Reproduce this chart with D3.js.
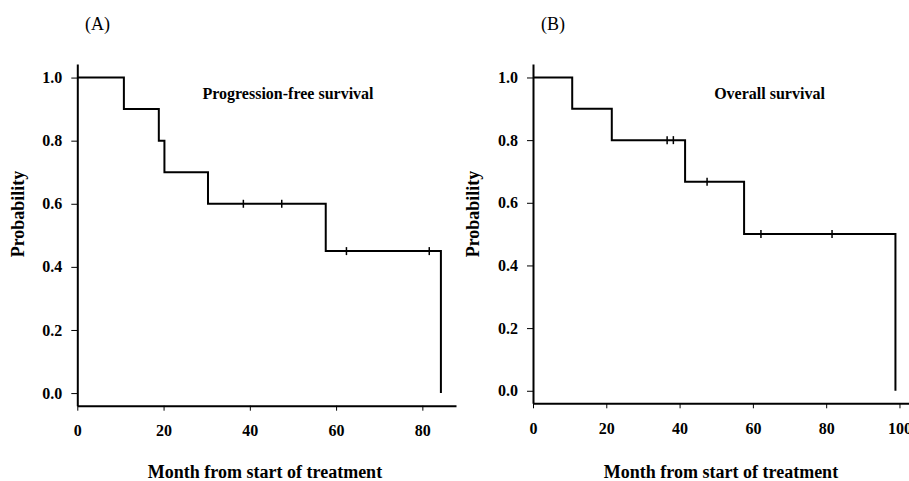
<!DOCTYPE html>
<html>
<head>
<meta charset="utf-8">
<script src="https://cdn.jsdelivr.net/npm/d3@7"></script>
<style>
  body { margin: 0; background: #fff; }
  text { font-family: "Liberation Serif", "Times New Roman", serif; fill: #000; }
</style>
</head>
<body>
<div id="chart"></div>
<script>
// Kaplan-Meier steps (months, probability)
var pfsTimes = [0, 10.8, 18.9, 20.2, 30.3, 57.6, 84.3]
var pfsSurv = [1.0, 0.9, 0.8, 0.7, 0.6, 0.45, 0.0]
var pfsCensor = [38.5, 47.4, 62.4, 81.6]

var osTimes = [0, 10.7, 21.5, 41.5, 57.6, 98.9]
var osSurv = [1.0, 0.9, 0.8, 0.667, 0.5, 0.0]
var osCensor = [36.6, 38.3, 47.5, 62.2, 81.6]

var yTicks = [0, 0.2, 0.4, 0.6, 0.8, 1.0]
var xTicksA = [0, 20, 40, 60, 80]
var xTicksB = [0, 20, 40, 60, 80, 100]

var width = 909
var height = 481

var svg = d3.select("#chart")
  .append("svg")
  .attr("width", width)
  .attr("height", height)

function panel(opt) {
  var x = d3.scaleLinear().domain([0, opt.xMax]).range([opt.left, opt.right])
  var y = d3.scaleLinear().domain([-0.04, 1.043]).range([opt.bottom, 64])

  var g = svg.append("g")

  // y axis
  var yAxis = g.append("g")
    .attr("transform", "translate(" + opt.left + ",0)")
    .call(d3.axisLeft(y).tickValues(yTicks).tickFormat(d3.format(".1f")).tickSize(6).tickSizeOuter(0).tickPadding(9))
  yAxis.select(".domain").attr("stroke-width", 2)
  yAxis.selectAll(".tick line").attr("stroke-width", 1)
  yAxis.selectAll("text")
    .style("font-size", "16px")
    .style("font-weight", "bold")

  // x axis
  var xAxis = g.append("g")
    .attr("transform", "translate(0," + opt.bottom + ")")
    .call(d3.axisBottom(x).tickValues(opt.xTicks).tickSize(5).tickSizeOuter(0).tickPadding(14))
  xAxis.select(".domain").attr("stroke-width", 2)
  xAxis.selectAll(".tick line").attr("stroke-width", 1)
  xAxis.selectAll("text")
    .style("font-size", "16px")
    .style("font-weight", "bold")

  // survival curve
  var pts = opt.times.map(function (t, i) { return [t, opt.surv[i]] })
  var line = d3.line()
    .x(function (d) { return x(d[0]) })
    .y(function (d) { return y(d[1]) })
    .curve(d3.curveStepAfter)
  g.append("path")
    .datum(pts)
    .attr("d", line)
    .attr("fill", "none")
    .attr("stroke", "#000")
    .attr("stroke-width", 2)

  // censor marks
  function survAt(t) {
    var s = opt.surv[0]
    opt.times.forEach(function (tt, i) { if (tt <= t) s = opt.surv[i] })
    return s
  }
  g.selectAll(".censor")
    .data(opt.censor)
    .enter()
    .append("line")
    .attr("x1", function (d) { return x(d) })
    .attr("x2", function (d) { return x(d) })
    .attr("y1", function (d) { return y(survAt(d)) - 4 })
    .attr("y2", function (d) { return y(survAt(d)) + 4 })
    .attr("stroke", "#000")
    .attr("stroke-width", 1.5)

  // labels
  g.append("text")
    .attr("x", opt.tagX)
    .attr("y", 30)
    .style("font-size", "18px")
    .text(opt.tag)

  g.append("text")
    .attr("x", opt.titleX)
    .attr("y", 99)
    .attr("text-anchor", "middle")
    .style("font-size", "16px")
    .style("font-weight", "bold")
    .text(opt.title)

  g.append("text")
    .attr("transform", "translate(" + opt.yLabelX + ",214) rotate(-90)")
    .attr("text-anchor", "middle")
    .style("font-size", "18px")
    .style("font-weight", "bold")
    .text("Probability")

  g.append("text")
    .attr("x", opt.xLabelX)
    .attr("y", 478)
    .attr("text-anchor", "middle")
    .style("font-size", "18px")
    .style("font-weight", "bold")
    .text("Month from start of treatment")
}

panel({
  left: 77.3, right: 456, bottom: 405.7, xMax: 87.8, xTicks: xTicksA,
  times: pfsTimes, surv: pfsSurv, censor: pfsCensor,
  tag: "(A)", tagX: 85, title: "Progression-free survival", titleX: 288,
  yLabelX: 24, xLabelX: 265
})

panel({
  left: 533, right: 909, bottom: 403.3, xMax: 102.6, xTicks: xTicksB,
  times: osTimes, surv: osSurv, censor: osCensor,
  tag: "(B)", tagX: 541, title: "Overall survival", titleX: 769.5,
  yLabelX: 479, xLabelX: 721
})
</script>
</body>
</html>
